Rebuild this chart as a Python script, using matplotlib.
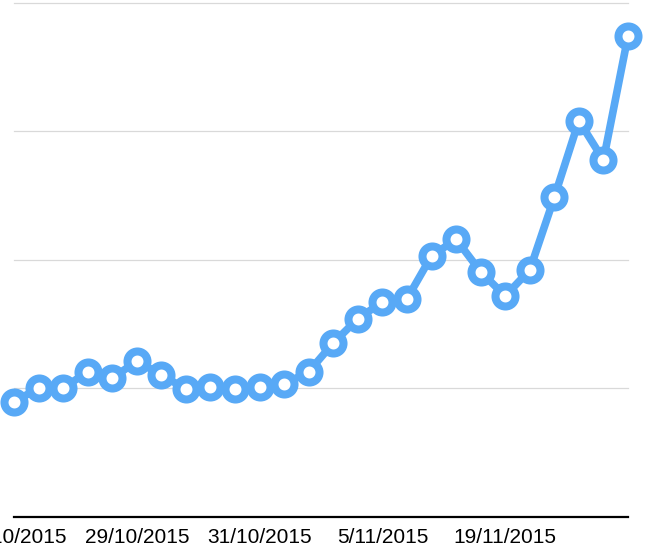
import matplotlib
matplotlib.use("Agg")
import matplotlib.pyplot as plt

# values (gridline spacing = 1 unit)
values = [0.893, 0.998, 0.998, 1.127, 1.075, 1.210, 1.101, 0.992, 1.010, 0.992,
          1.010, 1.029, 1.127, 1.350, 1.539, 1.669, 1.694, 2.027, 2.157, 1.905,
          1.716, 1.918, 2.484, 3.080, 2.774, 3.739]
tick_labels = ["27/10/2015", "29/10/2015", "31/10/2015", "5/11/2015", "19/11/2015"]
tick_idx = [0, 5, 10, 15, 20]
grid_levels = [1, 2, 3, 4]

BLUE = "#58A9F6"

fig = plt.figure(figsize=(6.46, 5.52), dpi=100)
W, H = 646, 552
ax = fig.add_axes([14 / W, (H - 516.5) / H, (628 - 14) / W, (516.5 - 2.5) / H])

x = list(range(len(values)))
for g in grid_levels:
    ax.axhline(g, color="#d9d9d9", lw=0.9, zorder=1, clip_on=False)

ax.plot(x, values, color=BLUE, lw=5.5, marker="o", ms=14.4,
        mfc="white", mec=BLUE, mew=5.8, zorder=3, clip_on=False)

ax.set_xlim(0, len(values) - 1)
ax.set_ylim(0, 4)
for s in ["top", "right", "left"]:
    ax.spines[s].set_visible(False)
ax.spines["bottom"].set_linewidth(1.6)
ax.spines["bottom"].set_color("black")
ax.set_yticks([])
ax.set_xticks(tick_idx)
ax.set_xticklabels(tick_labels, fontsize=15, family="Liberation Sans")
ax.tick_params(axis="x", length=0, pad=8)

fig.savefig("out.png", dpi=100)
